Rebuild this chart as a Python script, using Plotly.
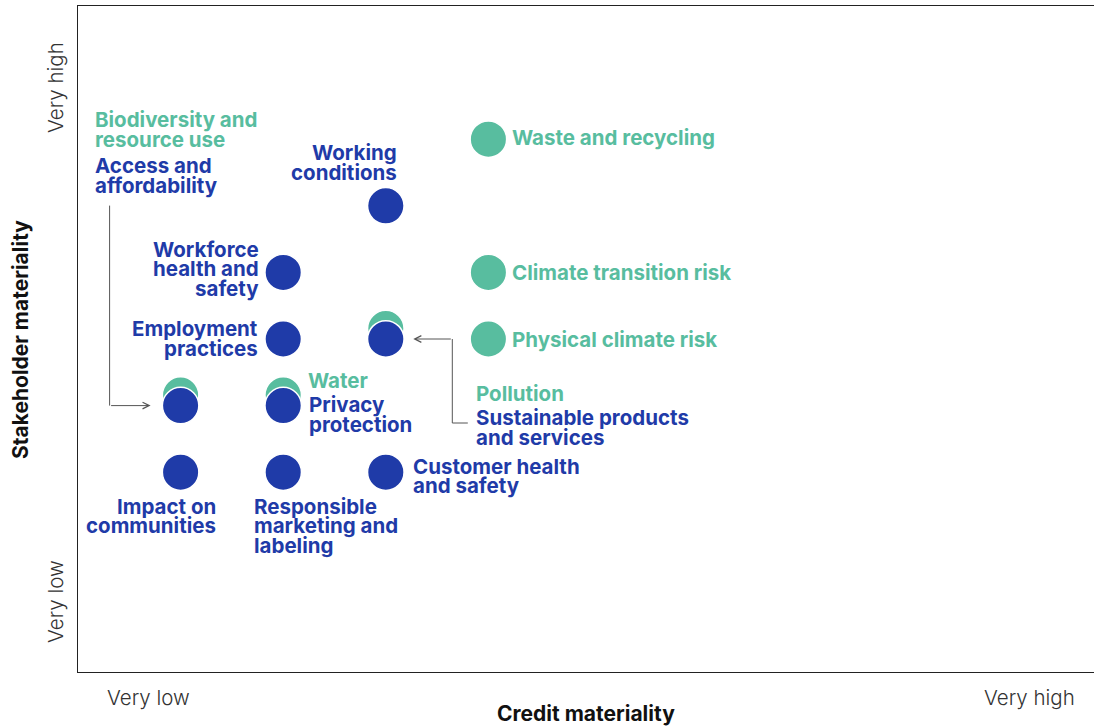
import plotly.graph_objects as go

# ---------------- data ----------------
env_names = ["Waste and recycling", "Climate transition risk", "Physical climate risk",
             "Pollution", "Water", "Biodiversity and resource use"]
env_credit = [4, 4, 4, 3, 2, 1]
env_stake = [8, 6, 5, 5, 4, 4]

soc_names = ["Working conditions", "Workforce health and safety", "Employment practices",
             "Sustainable products and services", "Access and affordability",
             "Privacy protection", "Impact on communities",
             "Responsible marketing and labeling", "Customer health and safety"]
soc_credit = [3, 2, 2, 3, 1, 2, 1, 2, 3]
soc_stake = [7, 6, 5, 5, 4, 4, 3, 3, 3]

label_lines = {
    "Waste and recycling": ["Waste and recycling"],
    "Climate transition risk": ["Climate transition risk"],
    "Physical climate risk": ["Physical climate risk"],
    "Pollution": ["Pollution"],
    "Water": ["Water"],
    "Biodiversity and resource use": ["Biodiversity and", "resource use"],
    "Working conditions": ["Working", "conditions"],
    "Workforce health and safety": ["Workforce", "health and", "safety"],
    "Employment practices": ["Employment", "practices"],
    "Sustainable products and services": ["Sustainable products", "and services"],
    "Access and affordability": ["Access and", "affordability"],
    "Privacy protection": ["Privacy", "protection"],
    "Impact on communities": ["Impact on", "communities"],
    "Responsible marketing and labeling": ["Responsible", "marketing and", "labeling"],
    "Customer health and safety": ["Customer health", "and safety"],
}

x_tick_labels = ["Very low", "Very high"]
y_tick_labels = ["Very low", "Very high"]
x_title = "Credit materiality"
y_title = "Stakeholder materiality"

# ---------------- style / layout ----------------
W, H = 1094, 726
ML, MR, MT, MB = 78, 0, 6, 54
PX_PER_X = 102.6
PLOT_W = W - ML - MR
PLOT_H = H - MT - MB
X_RANGE = [0, PLOT_W / PX_PER_X]
Y_RANGE = [0, 10]
PX_PER_Y = PLOT_H / (Y_RANGE[1] - Y_RANGE[0])

TEAL = "#58bd9f"
BLUE = "#1f3ba8"
FONT = "Inter"
LABEL_SIZE = 20.5
MSIZE = 36.5
OVERLAP_SHIFT_PX = 10.5
LINE_GAP = 19.5
PAD_COMP = 2  # compensates annotation box padding

# label placement: (xanchor, dx px, dy px of first line center; screen coords, down positive)
label_pos = {
    "Waste and recycling": ("left", 24, -2),
    "Climate transition risk": ("left", 24, 0),
    "Physical climate risk": ("left", 24, 0),
    "Pollution": ("left", 90.5, 54.5),
    "Water": ("left", 25, -25),
    "Biodiversity and resource use": ("left", -86, -286),
    "Working conditions": ("right", 11, -53),
    "Workforce health and safety": ("right", -24, -23),
    "Employment practices": ("right", -25, -10.5),
    "Sustainable products and services": ("left", 90.5, 78.5),
    "Access and affordability": ("left", -86, -240),
    "Privacy protection": ("left", 26, -1),
    "Impact on communities": ("right", 35, 34),
    "Responsible marketing and labeling": ("left", -29, 34),
    "Customer health and safety": ("left", 27.5, -6),
}

soc_points = set(zip(soc_credit, soc_stake))
env_plot_y = [y + (OVERLAP_SHIFT_PX / PX_PER_Y if (x, y) in soc_points else 0)
              for x, y in zip(env_credit, env_stake)]

fig = go.Figure()
fig.add_trace(go.Scatter(
    x=env_credit, y=env_plot_y, mode="markers", name="Environmental",
    text=env_names, hoverinfo="text",
    marker=dict(size=MSIZE, color=TEAL, line=dict(color="white", width=1.5)),
))
fig.add_trace(go.Scatter(
    x=soc_credit, y=soc_stake, mode="markers", name="Social",
    text=soc_names, hoverinfo="text",
    marker=dict(size=MSIZE, color=BLUE, line=dict(color="white", width=1.5)),
))

annotations = []
for names, xs, ys, color in ((env_names, env_credit, env_stake, TEAL),
                             (soc_names, soc_credit, soc_stake, BLUE)):
    for n, x, y in zip(names, xs, ys):
        anchor, dx, dy = label_pos[n]
        dx = dx - PAD_COMP if anchor == "left" else dx + PAD_COMP
        for i, line in enumerate(label_lines[n]):
            annotations.append(dict(
                x=x, y=y, xref="x", yref="y", text=line, showarrow=False,
                xanchor=anchor, yanchor="middle", align=anchor,
                xshift=dx, yshift=-(dy + i * LINE_GAP),
                font=dict(family=FONT, size=LABEL_SIZE, color=color, weight=700),
            ))

# connector arrows
ARROW_COLOR = "#555555"
acc_i = soc_names.index("Access and affordability")
sus_i = soc_names.index("Sustainable products and services")
acc_x, acc_y = soc_credit[acc_i], soc_stake[acc_i]
sus_x, sus_y = soc_credit[sus_i], soc_stake[sus_i]

shapes = [
    dict(type="path", xref="x", yref="y", xsizemode="pixel", ysizemode="pixel",
         xanchor=acc_x, yanchor=acc_y,
         path="M -71,0 L -71,200", line=dict(color=ARROW_COLOR, width=1)),
    dict(type="path", xref="x", yref="y", xsizemode="pixel", ysizemode="pixel",
         xanchor=sus_x, yanchor=sus_y,
         path="M 82,-84 L 66.5,-84 L 66.5,0", line=dict(color=ARROW_COLOR, width=1)),
]
annotations.append(dict(x=acc_x, y=acc_y, xref="x", yref="y", text="", showarrow=True,
                        axref="pixel", ayref="pixel", ax=-71, ay=0, standoff=30,
                        arrowhead=5, arrowsize=1.3, arrowwidth=1, arrowcolor=ARROW_COLOR))
annotations.append(dict(x=sus_x, y=sus_y, xref="x", yref="y", text="", showarrow=True,
                        axref="pixel", ayref="pixel", ax=66.5, ay=0, standoff=27.5,
                        arrowhead=5, arrowsize=1.3, arrowwidth=1, arrowcolor=ARROW_COLOR))

# axis end labels and titles
tick_font = dict(family=FONT, size=20.5, color="#333333", weight=300)
title_font = dict(family=FONT, size=21, color="#111111", weight=700)
annotations += [
    dict(x=(148.5 - ML) / PLOT_W, y=0, xref="paper", yref="paper", text=x_tick_labels[0],
         showarrow=False, xanchor="center", yanchor="middle", yshift=-25, font=tick_font),
    dict(x=(1029 - ML) / PLOT_W, y=0, xref="paper", yref="paper", text=x_tick_labels[1],
         showarrow=False, xanchor="center", yanchor="middle", yshift=-25, font=tick_font),
    dict(x=0, y=(H - MB - 602) / PLOT_H, xref="paper", yref="paper", text=y_tick_labels[0],
         showarrow=False, xanchor="center", yanchor="middle", xshift=-23, textangle=-90,
         font=tick_font),
    dict(x=0, y=(H - MB - 88) / PLOT_H, xref="paper", yref="paper", text=y_tick_labels[1],
         showarrow=False, xanchor="center", yanchor="middle", xshift=-23, textangle=-90,
         font=tick_font),
    dict(x=(585.5 - ML) / PLOT_W, y=0, xref="paper", yref="paper", text=x_title,
         showarrow=False, xanchor="center", yanchor="middle", yshift=-41, font=title_font),
    dict(x=0, y=(H - MB - 340) / PLOT_H, xref="paper", yref="paper", text=y_title,
         showarrow=False, xanchor="center", yanchor="middle", xshift=-58, textangle=-90,
         font=title_font),
]

fig.update_layout(
    width=W, height=H,
    margin=dict(l=ML, r=MR, t=MT, b=MB),
    paper_bgcolor="white", plot_bgcolor="white",
    showlegend=False,
    annotations=annotations,
    shapes=shapes,
    xaxis=dict(range=X_RANGE, showgrid=False, zeroline=False, showticklabels=False,
               ticks="", showline=True, mirror=True, linecolor="#222222", linewidth=1.2),
    yaxis=dict(range=Y_RANGE, showgrid=False, zeroline=False, showticklabels=False,
               ticks="", showline=True, mirror=False, linecolor="#222222", linewidth=1.2),
)

fig.write_html("out.html", config={"displayModeBar": False},
               post_script="document.body.style.margin='0';document.body.style.overflow='hidden';")
